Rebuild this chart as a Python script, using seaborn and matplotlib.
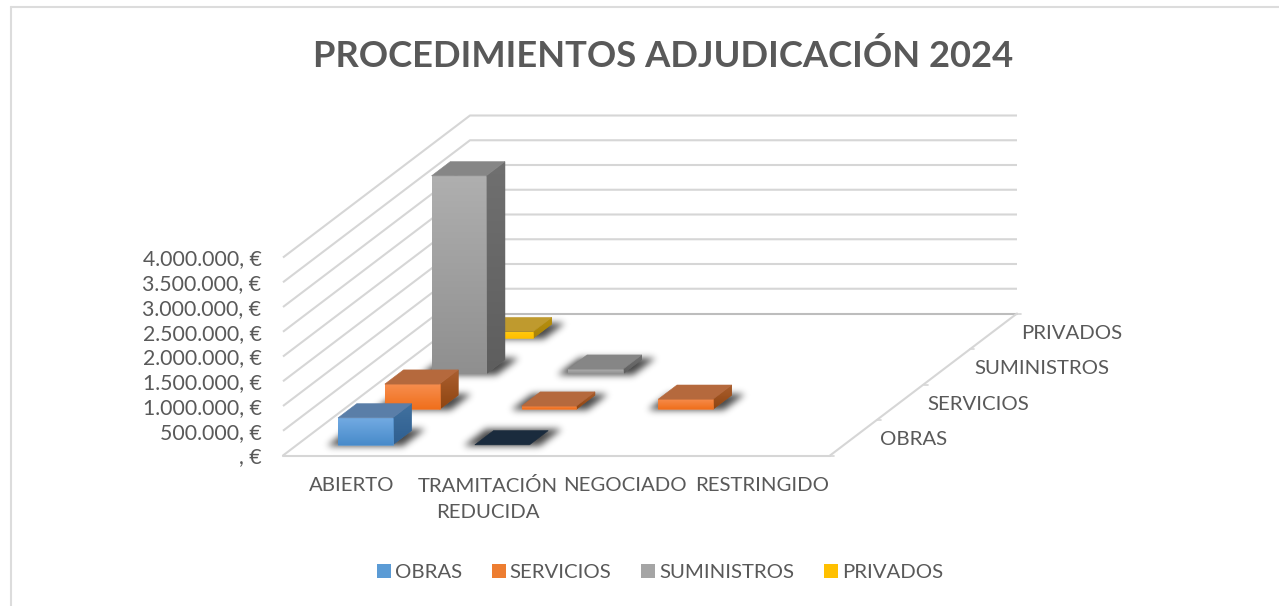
import numpy as np
import matplotlib
matplotlib.use("Agg")
import matplotlib.pyplot as plt
import seaborn as sns
from matplotlib.colors import to_rgb
from matplotlib.lines import Line2D
from matplotlib.patches import Patch, Polygon
from matplotlib.path import Path

categories = ["ABIERTO", "TRAMITACIÓN\nREDUCIDA", "NEGOCIADO", "RESTRINGIDO"]
series_names = ["OBRAS", "SERVICIOS", "SUMINISTROS", "PRIVADOS"]

# euros, nan = no bar at all
obras = [545000, 0, np.nan, np.nan]
servicios = [510000, 65000, 205000, np.nan]
suministros = [4000000, 95000, np.nan, np.nan]
privados = [135000, np.nan, np.nan, np.nan]
all_values = [obras, servicios, suministros, privados]

y_ticks = [0, 500000, 1000000, 1500000, 2000000, 2500000, 3000000, 3500000, 4000000]
y_tick_labels = [", €", "500.000, €", "1.000.000, €", "1.500.000, €", "2.000.000, €",
                 "2.500.000, €", "3.000.000, €", "3.500.000, €", "4.000.000, €"]

palette = sns.color_palette(["#5B9BD5", "#ED7D31", "#A5A5A5", "#FFC000"])
front_top = ["#72aae2", "#f78f50", "#afafaf", "#ffcb10"]
front_bottom = ["#488bca", "#f06f1c", "#8f8f8f", "#ffbf00"]
side_top = ["#41719f", "#ab5f30", "#707070", "#b8900f"]
side_bottom = ["#2f5f90", "#8f4510", "#5e5e5e", "#a88208"]
top_colors = ["#5a7ea8", "#b5693d", "#868686", "#bf9a2e"]
empty_top = "#1a2b3d"

TEXT = "#595959"
GRID = "#d6d6d6"

# oblique look of the 3d chart: one row of depth in category / euro units
DEPTH_X = 46.75 / 136.75
DEPTH_Y = 35.5 / 24.75 * 500000
BAR_W = 0.4


def project(c, d, v):
    return c + d * DEPTH_X, v + d * DEPTH_Y


sns.set_theme(style="white")
plt.rcParams["font.family"] = ["Lato", "DejaVu Sans"]

fig = plt.figure(figsize=(12.79, 6.06), dpi=100)
ax = fig.add_axes([283 / 1279, (606 - 455.5) / 606, 547 / 1279, 198 / 606])
ax.patch.set_visible(False)
ax.set_xlim(0, 4)
ax.set_ylim(0, 4000000)


def face(points, color, z):
    ax.add_patch(Polygon([project(*p) for p in points], closed=True, facecolor=color,
                         edgecolor=color, lw=0.4, clip_on=False, zorder=z))


def gradient_face(points, c_top, c_bottom, z):
    # solid polygon underneath closes the seams of the clipped image
    mid = tuple((np.array(to_rgb(c_top)) + np.array(to_rgb(c_bottom))) / 2)
    poly = Polygon([project(*p) for p in points], closed=True, facecolor=mid,
                   edgecolor=mid, lw=0.4, clip_on=False, zorder=z)
    ax.add_patch(poly)
    xy = poly.get_xy()
    t = np.linspace(0, 1, 128)[:, None, None]
    img = (1 - t) * np.array(to_rgb(c_top)) + t * np.array(to_rgb(c_bottom))
    im = ax.imshow(img, extent=(xy[:, 0].min(), xy[:, 0].max(), xy[:, 1].min(), xy[:, 1].max()),
                   aspect="auto", interpolation="nearest", zorder=z)
    im.set_clip_path(poly)
    im.set_clip_box(fig.bbox)


def blur(mask, sigma):
    r = int(3 * sigma)
    k = np.exp(-0.5 * (np.arange(-r, r + 1) / sigma) ** 2)
    k = k / k.sum()
    mask = np.apply_along_axis(lambda m: np.convolve(m, k, mode="same"), 0, mask)
    return np.apply_along_axis(lambda m: np.convolve(m, k, mode="same"), 1, mask)


# walls and floor
for v in y_ticks[1:]:
    pts = [project(0, 0, v), project(0, 4, v), project(4, 4, v)]
    ax.plot(*zip(*pts), color=GRID, lw=1.5, clip_on=False, zorder=1, solid_capstyle="butt")
ax.plot(*zip(project(0, 0, 0), project(0, 4, 0)), color=GRID, lw=1.5, clip_on=False, zorder=1)
ax.plot(*zip(project(0, 4, 0), project(4, 4, 0)), color="#bdbdbd", lw=1.5, clip_on=False, zorder=1)
ax.plot(*zip(project(0, 0, 0), project(4, 0, 0)), color=GRID, lw=1.5, clip_on=False, zorder=1)
ax.plot(*zip(project(4, 0, 0), project(4, 4, 0)), color=GRID, lw=1.5, clip_on=False, zorder=1)
for d in range(5):
    ax.plot(*zip(project(4, d, 0), project(4.03, d, 0)), color=GRID, lw=1.2, clip_on=False, zorder=1)

# shadows go first, all of them lie on the floor: one blurred layer over the whole figure
px, py = np.meshgrid(np.arange(1279) + 0.5, np.arange(606) + 0.5)
grid = np.column_stack([px.ravel(), py.ravel()])
shadow = np.zeros(px.shape)
for d, row in enumerate(all_values):
    for c, v in enumerate(row):
        if np.isnan(v):
            continue
        c0, c1 = c + 0.5 - BAR_W / 2 - 0.07, c + 0.5 + BAR_W / 2 + 0.085
        d0, d1 = d + 0.5 - BAR_W / 2 - 0.03, d + 0.5 + BAR_W / 2 + 0.04
        pts = [project(c0, d0, 0), project(c1, d0, 0), project(c1, d1, 0), project(c0, d1, 0)]
        disp = ax.transData.transform(pts)
        disp[:, 1] = 606 - disp[:, 1]
        shadow += Path(disp).contains_points(grid).reshape(px.shape)
shadow = np.clip(blur(shadow, 3.5) * 0.72, 0, 1)
rgba = np.zeros(shadow.shape + (4,))
rgba[..., 3] = shadow
corners = ax.transData.inverted().transform([(0, 0), (1279, 606)])
sh = ax.imshow(rgba, extent=(corners[0, 0], corners[1, 0], corners[0, 1], corners[1, 1]),
               aspect="auto", interpolation="nearest", zorder=2)
sh.set_clip_box(fig.bbox)

# bars, back row first
z = 3
for d in range(3, -1, -1):
    for c in range(3, -1, -1):
        v = all_values[d][c]
        if np.isnan(v):
            continue
        c0, c1 = c + 0.5 - BAR_W / 2, c + 0.5 + BAR_W / 2
        d0, d1 = d + 0.5 - BAR_W / 2, d + 0.5 + BAR_W / 2
        top_col = top_colors[d] if v > 0 else empty_top
        if v > 0:
            gradient_face([(c1, d0, 0), (c1, d1, 0), (c1, d1, v), (c1, d0, v)], side_top[d], side_bottom[d], z)
            gradient_face([(c0, d0, 0), (c1, d0, 0), (c1, d0, v), (c0, d0, v)], front_top[d], front_bottom[d], z + 0.1)
        face([(c0, d0, v), (c1, d0, v), (c1, d1, v), (c0, d1, v)], top_col, z + 0.2)
        z += 1

ax.set_xlim(0, 4)
ax.set_ylim(0, 4000000)
ax.set_yticks(y_ticks)
ax.set_yticklabels(y_tick_labels, color=TEXT, fontsize=15.3)
ax.set_xticks([i + 0.5 for i in range(4)])
ax.set_xticklabels(categories, color=TEXT, fontsize=14.7, linespacing=1.68)
ax.tick_params(axis="y", length=0, pad=15.5)
ax.tick_params(axis="x", length=0, pad=15.2)
sns.despine(ax=ax, left=True, bottom=True)

for d, name in enumerate(series_names):
    ax.annotate(name, xy=project(4, d + 0.5, 0), xytext=(19.5, -1.3), textcoords="offset points",
                ha="left", va="center", color=TEXT, fontsize=14.7, annotation_clip=False)

fig.text(663.5 / 1279, 1 - 56 / 606, "PROCEDIMIENTOS ADJUDICACIÓN 2024", ha="center", va="center",
         color=TEXT, fontsize=26.2, fontweight="bold")

handles = [Patch(facecolor=palette[i], edgecolor="none") for i in range(4)]
fig.legend(handles, series_names, loc="center", bbox_to_anchor=(660 / 1279, 1 - 572.5 / 606), ncol=4,
           frameon=False, fontsize=14.7, labelcolor=TEXT, handlelength=0.69, handleheight=0.69,
           handletextpad=0.2, columnspacing=1.45)

# outer chart frame, only top and left show in the crop
fig.add_artist(Line2D([11 / 1279, 11 / 1279], [0, 1 - 6.5 / 606], color="#dcdcdc", lw=1.5))
fig.add_artist(Line2D([11 / 1279, 1], [1 - 6.5 / 606, 1 - 6.5 / 606], color="#dcdcdc", lw=1.5))

fig.savefig("out.png", dpi=100)
